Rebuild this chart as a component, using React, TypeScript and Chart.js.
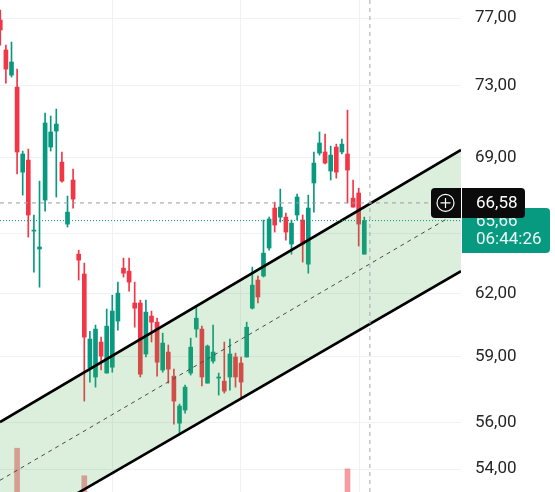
import React, { useEffect, useRef } from 'react';
import { Chart, registerables } from 'chart.js';

Chart.register(...registerables);

// ---- data ----
const opens = [76.88, 75.09, 73.62, 72.93, 68.21, 68.86, 65.12, 64.21, 66.73, 69.57, 70.45, 68.75, 65.48, 67.79, 63.95, 62.96, 58.47, 58.06, 59.68, 58.24, 58.51, 60.67, 63.25, 63.10, 61.54, 61.54, 59.12, 60.91, 60.62, 58.38, 59.21, 58.10, 55.99, 56.57, 58.24, 60.29, 60.29, 57.78, 58.79, 58.01, 57.87, 58.06, 58.98, 58.70, 58.98, 61.29, 62.66, 62.86, 64.26, 66.31, 65.84, 65.84, 64.46, 65.95, 65.69, 63.45, 67.63, 69.24, 69.30, 68.27, 69.57, 69.30, 69.19, 66.83, 67.10, 63.95];
const highs = [77.49, 75.38, 75.56, 73.97, 69.35, 69.46, 65.95, 67.73, 71.46, 71.29, 71.68, 69.30, 66.94, 68.38, 64.15, 63.50, 60.19, 60.48, 59.91, 61.25, 61.92, 62.56, 63.75, 63.75, 62.56, 61.68, 61.68, 61.15, 60.81, 60.10, 59.54, 58.42, 56.84, 57.69, 59.86, 61.39, 60.43, 59.54, 60.48, 58.24, 59.68, 59.82, 59.16, 58.98, 60.62, 63.30, 62.86, 65.69, 65.84, 66.62, 67.31, 66.05, 65.69, 67.04, 65.95, 66.99, 69.30, 70.40, 70.29, 69.62, 69.73, 70.01, 71.62, 67.79, 67.36, 65.84];
const lows = [75.38, 73.16, 73.51, 68.11, 66.99, 64.81, 63.05, 62.31, 66.15, 69.35, 66.89, 67.68, 65.33, 66.31, 62.66, 56.97, 57.83, 57.60, 58.38, 58.24, 58.28, 60.24, 62.81, 62.12, 60.38, 58.06, 58.98, 59.68, 58.10, 58.28, 57.78, 55.95, 55.55, 56.43, 58.15, 59.91, 57.65, 57.78, 58.70, 57.24, 57.33, 57.46, 57.60, 57.15, 58.98, 61.25, 61.54, 62.81, 64.15, 65.07, 65.58, 64.66, 63.95, 65.69, 63.55, 63.00, 66.10, 69.13, 68.65, 67.79, 67.89, 69.19, 66.57, 66.36, 64.36, 63.95];
const closes = [76.28, 73.97, 74.38, 69.30, 69.19, 65.95, 65.17, 64.31, 70.90, 70.40, 70.84, 67.73, 66.10, 66.78, 63.65, 59.91, 59.82, 60.29, 59.02, 60.43, 61.15, 62.02, 63.00, 62.56, 61.29, 58.19, 61.10, 60.62, 58.74, 59.63, 58.42, 56.97, 56.75, 57.60, 59.44, 60.81, 58.06, 59.49, 59.21, 58.06, 57.42, 59.12, 58.06, 57.83, 60.38, 62.41, 61.83, 64.00, 65.74, 65.43, 66.36, 65.07, 65.53, 66.89, 64.46, 66.31, 68.70, 69.79, 68.70, 69.13, 68.21, 69.73, 68.32, 66.36, 65.48, 65.66];
// visible volume bars (others are below the cropped bottom)
const volumes: (number | null)[] = opens.map(() => null);
volumes[3] = 89;
volumes[15] = 33;
volumes[62] = 47;

const yTickValues = [54, 56, 59, 62, 65, 69, 73, 77];
const hiddenTickValues = [65];
const xGridValues = [20, 42.85, 64.1];

const xMin = -0.054;
const xMax = 82.27;
const yMin = 53.04;
const yMax = 78.1;

const channelUpper = [56.04, 69.41];
const channelLower = [51.15, 63.1];
const channelMid = [53.53, 66.18];

const crosshairIndex = 66;
const crosshairPrice = 66.58;
const lastPrice = 65.66;
const countdown = '06:44:26';

const GREEN = '#089981';
const RED = '#F23645';
const FONT = 'Roboto';

const fmt = (v: number) => v.toFixed(2).replace('.', ',');

const labelsPlugin = {
  id: 'priceLabels',
  afterDraw(chart: any) {
    const ctx = chart.ctx;
    const y = chart.scales.y;
    const right = chart.chartArea.right;
    const pyLast = y.getPixelForValue(lastPrice);
    const pyCross = y.getPixelForValue(crosshairPrice);
    ctx.save();
    // last price box
    ctx.fillStyle = GREEN;
    ctx.beginPath();
    ctx.roundRect(right + 1, pyLast - 12.5, 88, 45, [0, 4, 4, 0]);
    ctx.fill();
    ctx.fillStyle = 'rgba(255,255,255,0.92)';
    ctx.font = `17px ${FONT}`;
    ctx.textBaseline = 'middle';
    ctx.textAlign = 'left';
    ctx.fillText(fmt(lastPrice), right + 15, pyLast + 1.5);
    ctx.fillText(countdown, right + 15, pyLast + 19);
    // crosshair label
    ctx.fillStyle = '#0b0b0c';
    ctx.beginPath();
    ctx.roundRect(right - 30, pyCross - 15, 30, 30, [4, 0, 0, 4]);
    ctx.fill();
    ctx.beginPath();
    ctx.roundRect(right + 1, pyCross - 15, 63, 30, [0, 4, 4, 0]);
    ctx.fill();
    ctx.fillStyle = '#ffffff';
    ctx.fillText(fmt(crosshairPrice), right + 15, pyCross + 1);
    // plus icon
    const cx = right - 15.5;
    const cy = pyCross;
    ctx.strokeStyle = '#ffffff';
    ctx.lineWidth = 1.2;
    ctx.beginPath();
    ctx.arc(cx, cy, 8.5, 0, Math.PI * 2);
    ctx.stroke();
    ctx.beginPath();
    ctx.moveTo(cx - 5, cy);
    ctx.lineTo(cx + 5, cy);
    ctx.moveTo(cx, cy - 5);
    ctx.lineTo(cx, cy + 5);
    ctx.stroke();
    ctx.restore();
  },
};

const App = () => {
  const ref = useRef<HTMLCanvasElement>(null);
  useEffect(() => {
    document.body.style.margin = '0';
    const canvas = ref.current;
    if (!canvas) return;
    const idx = opens.map((_, i) => i);
    const up = idx.map((i) => closes[i] >= opens[i]);
    const colors = up.map((u) => (u ? GREEN : RED));
    const bodyData = idx.map((i) => ({ x: i, y: [Math.min(opens[i], closes[i]), Math.max(opens[i], closes[i])] }));
    const wickData = idx.map((i) => ({ x: i, y: [lows[i], highs[i]] }));
    const volData: any[] = [];
    volumes.forEach((v, i) => {
      if (v != null) volData.push({ x: i, y: v });
    });

    const lineBase = { type: 'line', pointRadius: 0, pointHoverRadius: 0, tension: 0, yAxisID: 'y' };

    const chart = new Chart(canvas, {
      type: 'bar',
      data: {
        datasets: [
          {
            type: 'bar',
            data: volData,
            yAxisID: 'yv',
            backgroundColor: 'rgba(242,54,69,0.5)',
            barThickness: 5,
            grouped: false,
            order: 20,
          },
          {
            type: 'bar',
            data: wickData,
            yAxisID: 'y',
            backgroundColor: colors,
            barThickness: 1,
            grouped: false,
            minBarLength: 1,
            order: 19,
          },
          {
            type: 'bar',
            data: bodyData,
            yAxisID: 'y',
            backgroundColor: colors,
            barThickness: 4,
            grouped: false,
            minBarLength: 1,
            order: 18,
          },
          {
            ...lineBase,
            data: [{ x: xMin, y: channelUpper[0] }, { x: xMax, y: channelUpper[1] }],
            borderColor: '#000000',
            borderWidth: 2.6,
            fill: '+1',
            backgroundColor: 'rgba(76,175,80,0.2)',
            order: 10,
          },
          {
            ...lineBase,
            data: [{ x: xMin, y: channelLower[0] }, { x: xMax, y: channelLower[1] }],
            borderColor: '#000000',
            borderWidth: 2.6,
            fill: false,
            order: 9,
          },
          {
            ...lineBase,
            data: [{ x: xMin, y: channelMid[0] }, { x: xMax, y: channelMid[1] }],
            borderColor: '#4a4a4a',
            borderWidth: 1,
            borderDash: [4, 4],
            fill: false,
            order: 8,
          },
          {
            ...lineBase,
            data: [{ x: xMin, y: lastPrice }, { x: xMax, y: lastPrice }],
            borderColor: GREEN,
            borderWidth: 1,
            borderDash: [1, 2],
            fill: false,
            order: 7,
          },
          {
            ...lineBase,
            data: [{ x: xMin, y: crosshairPrice }, { x: xMax, y: crosshairPrice }],
            borderColor: '#9a9ca3',
            borderWidth: 1,
            borderDash: [4, 4],
            fill: false,
            order: 6,
          },
          {
            ...lineBase,
            data: [{ x: crosshairIndex, y: yMin }, { x: crosshairIndex, y: yMax }],
            borderColor: '#a6a8ae',
            borderWidth: 1,
            borderDash: [4, 4],
            fill: false,
            order: 5,
          },
        ] as any,
      },
      options: {
        animation: false,
        responsive: false,
        devicePixelRatio: 1,
        events: [],
        layout: { padding: 0 },
        plugins: { legend: { display: false }, tooltip: { enabled: false } },
        scales: {
          x: {
            type: 'linear',
            min: xMin,
            max: xMax,
            offset: false,
            grid: { color: '#eff1f5', drawTicks: false, offset: false },
            border: { display: false },
            ticks: { display: false },
            afterBuildTicks: (s: any) => {
              s.ticks = xGridValues.map((v) => ({ value: v }));
            },
            afterFit: (s: any) => {
              s.height = 0;
              s.paddingLeft = 0;
              s.paddingRight = 0;
            },
          },
          y: {
            type: 'logarithmic',
            position: 'right',
            min: yMin,
            max: yMax,
            grid: { color: '#eff1f5', drawTicks: false },
            border: { display: false },
            ticks: {
              autoSkip: false,
              padding: 14,
              color: '#262626',
              font: { family: FONT, size: 17 },
              callback: (v: any) => (hiddenTickValues.includes(Number(v)) ? '' : fmt(Number(v))),
            },
            afterBuildTicks: (s: any) => {
              s.ticks = yTickValues.map((v) => ({ value: v }));
            },
            afterFit: (s: any) => {
              s.width = 94;
              s.paddingTop = 0;
              s.paddingBottom = 0;
            },
          },
          yv: {
            type: 'linear',
            display: false,
            min: 0,
            max: 1000,
          },
        },
      } as any,
      plugins: [labelsPlugin],
    });
    return () => chart.destroy();
  }, []);
  return (
    <div style={{ position: 'absolute', left: 0, top: 0, width: 555, height: 492, background: '#fff' }}>
      <canvas ref={ref} width={555} height={492} style={{ display: 'block' }} />
    </div>
  );
};

export default App;
